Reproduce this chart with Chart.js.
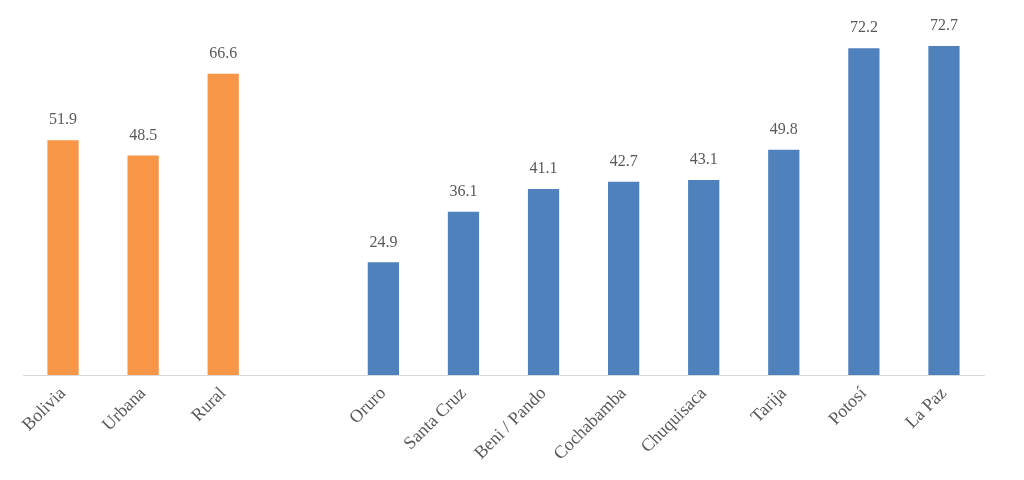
<!DOCTYPE html>
<html>
<head>
<meta charset="utf-8">
<script src="https://cdn.jsdelivr.net/npm/chart.js@4/dist/chart.umd.min.js"></script>
<style>
  html, body { margin: 0; padding: 0; background: #ffffff; }
  #wrap { width: 1024px; height: 480px; position: relative; }
</style>
</head>
<body>
<div id="wrap"><canvas id="chart"></canvas></div>
<script>
// categories (empty slot separates the national figures from the departments)
const categories = ["Bolivia", "Urbana", "Rural", "", "Oruro", "Santa Cruz", "Beni / Pando", "Cochabamba", "Chuquisaca", "Tarija", "Potosí", "La Paz"];
const values = [51.9, 48.5, 66.6, null, 24.9, 36.1, 41.1, 42.7, 43.1, 49.8, 72.2, 72.7];
const groups = ["n", "n", "n", "", "d", "d", "d", "d", "d", "d", "d", "d"];

const orange = "#F79646";
const blue = "#4F81BD";
const colors = groups.map((g) => (g === "n" ? orange : blue));

const valueLabels = {
  id: "valueLabels",
  afterDatasetsDraw(chart) {
    const ctx = chart.ctx;
    const meta = chart.getDatasetMeta(0);
    ctx.save();
    ctx.font = "16px 'Liberation Serif', serif";
    ctx.fillStyle = "#595959";
    ctx.textAlign = "center";
    ctx.textBaseline = "bottom";
    meta.data.forEach((bar, i) => {
      if (values[i] === null) return;
      ctx.fillText(values[i].toFixed(1), bar.x, bar.y - 12);
    });
    ctx.restore();
  },
};

let chart = new Chart(document.getElementById("chart"), {
  type: "bar",
  data: {
    labels: categories,
    datasets: [
      {
        data: values,
        backgroundColor: colors,
        borderWidth: 0,
        categoryPercentage: 1,
        barPercentage: 0.39,
      },
    ],
  },
  options: {
    responsive: true,
    maintainAspectRatio: false,
    animation: false,
    layout: { padding: { left: 23, right: 40, top: 13, bottom: 0 } },
    plugins: {
      legend: { display: false },
      tooltip: { enabled: false },
    },
    scales: {
      x: {
        grid: { display: false, drawTicks: false },
        border: { display: true, color: "#D9D9D9", width: 1 },
        ticks: {
          color: "#595959",
          font: { family: "'Liberation Serif', serif", size: 18 },
          minRotation: 45,
          maxRotation: 45,
          autoSkip: false,
          padding: 8,
        },
        afterFit(scale) {
          scale.height = 105;
        },
      },
      y: {
        display: false,
        min: 0,
        max: 80,
      },
    },
  },
  plugins: [valueLabels],
});
</script>
</body>
</html>
